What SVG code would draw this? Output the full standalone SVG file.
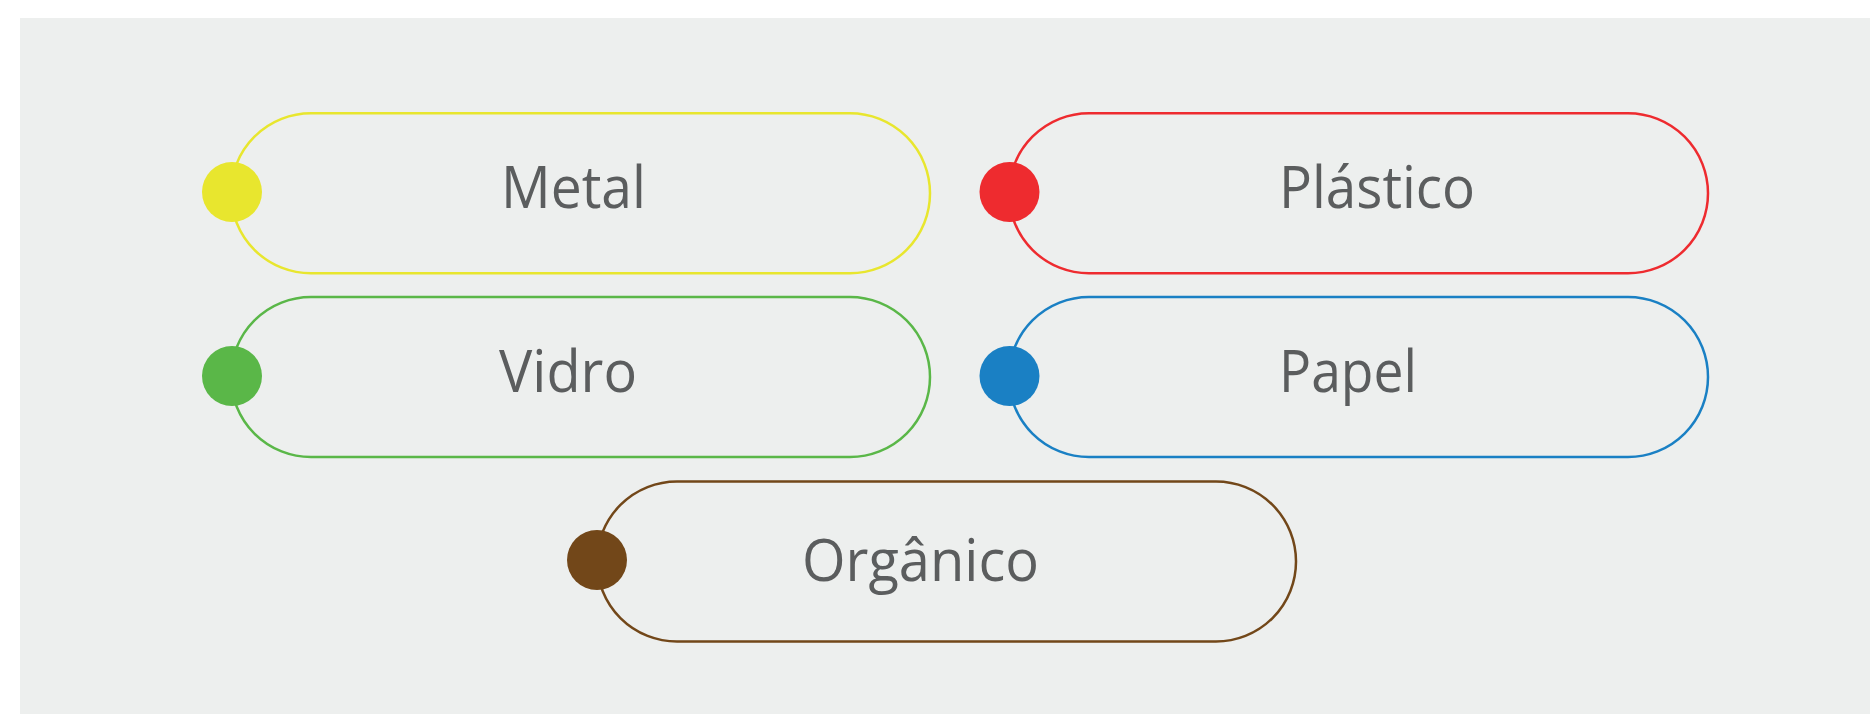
<svg xmlns="http://www.w3.org/2000/svg" width="1870" height="714" viewBox="0 0 1870 714">
<style>
.pill{fill:none;stroke-width:2.5}
.lbl{font-family:"Open Sans","Noto Sans",sans-serif;font-size:58px;fill:#5b5d5e}
</style>
<rect x="0" y="0" width="1870" height="714" fill="#ffffff"/>
<rect x="20" y="18" width="1850" height="696" fill="#edefee"/>
<g id="connectors"></g>
<g id="metal">
<rect class="pill" x="231" y="113.3" width="699" height="160" rx="80" stroke="#e8e62e"/>
<circle cx="232" cy="192" r="30" fill="#e8e62e"/>
<text class="lbl" x="501" y="208" textLength="145" lengthAdjust="spacingAndGlyphs">Metal</text>
</g>
<g id="plastico">
<rect class="pill" x="1009" y="113.3" width="699" height="160" rx="80" stroke="#ee2b2f"/>
<circle cx="1009.5" cy="192" r="30" fill="#ee2b2f"/>
<text class="lbl" x="1279" y="208" textLength="196" lengthAdjust="spacingAndGlyphs">Plástico</text>
</g>
<g id="vidro">
<rect class="pill" x="231" y="297" width="699" height="160" rx="80" stroke="#5ab748"/>
<circle cx="232" cy="376" r="30" fill="#5ab748"/>
<text class="lbl" x="499" y="392" textLength="138" lengthAdjust="spacingAndGlyphs">Vidro</text>
</g>
<g id="papel">
<rect class="pill" x="1009" y="297" width="699" height="160" rx="80" stroke="#1a80c4"/>
<circle cx="1009.5" cy="376" r="30" fill="#1a80c4"/>
<text class="lbl" x="1279" y="392" textLength="138" lengthAdjust="spacingAndGlyphs">Papel</text>
</g>
<g id="organico">
<rect class="pill" x="597" y="481.5" width="699" height="160" rx="80" stroke="#724719"/>
<circle cx="597" cy="560" r="30" fill="#724719"/>
<text class="lbl" x="802" y="581" textLength="237" lengthAdjust="spacingAndGlyphs">Orgânico</text>
</g>
</svg>
